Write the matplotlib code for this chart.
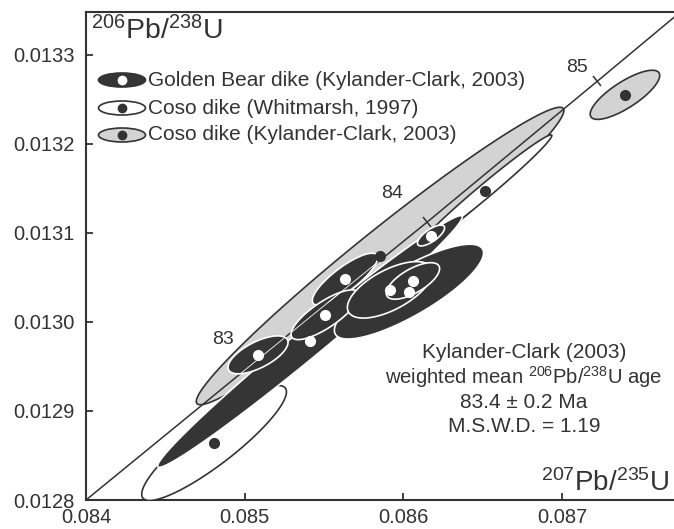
import numpy as np
import matplotlib
matplotlib.use("Agg")
import matplotlib.pyplot as plt
from matplotlib.patches import Ellipse, Polygon
from matplotlib.markers import MarkerStyle
from matplotlib.transforms import Affine2D

plt.rcParams['font.family'] = 'Liberation Sans'
plt.rcParams['mathtext.fontset'] = 'custom'
plt.rcParams['mathtext.rm'] = 'Liberation Sans'
plt.rcParams['mathtext.it'] = 'Liberation Sans:italic'
plt.rcParams['mathtext.bf'] = 'Liberation Sans:bold'

ink = '#333333'
dark = '#353535'
grey = '#d3d3d3'

# concordia, with age marks
conc_x = [0.08400, 0.085084, 0.086149, 0.087220, 0.087705]
conc_y = [0.012800, 0.012958, 0.013112, 0.013270, 0.013342]
age_marks = [83, 84, 85]
age_x = [0.085084, 0.086149, 0.087220]
age_y = [0.012958, 0.013112, 0.013270]

# error ellipses: 207Pb/235U, err, 206Pb/238U, err, rho
# Coso dike (Kylander-Clark, 2003)
coso_kc_x = [0.085853, 0.087396]
coso_kc_sx = [0.001158, 0.000219]
coso_kc_y = [0.013074, 0.013255]
coso_kc_sy = [0.000167, 0.0000276]
coso_kc_rho = [0.978, 0.786]

# Coso dike (Whitmarsh, 1997)
coso_w_x = [0.084807, 0.086514]
coso_w_sx = [0.000456, 0.000421]
coso_w_y = [0.012864, 0.013147]
coso_w_sy = [0.0000645, 0.0000630]
coso_w_rho = [0.890, 0.987]

# Golden Bear dike (Kylander-Clark, 2003)
gb_x = [0.085411, 0.086035, 0.085632, 0.085084, 0.085506, 0.085915, 0.086060, 0.086174]
gb_sx = [0.000960, 0.000470, 0.000206, 0.000189, 0.000214, 0.000268, 0.000168, 0.0000855]
gb_y = [0.012978, 0.013034, 0.013048, 0.012963, 0.013008, 0.013036, 0.013046, 0.013097]
gb_sy = [0.0001413, 0.0000532, 0.0000291, 0.0000213, 0.0000279, 0.0000317, 0.0000205, 0.0000117]
gb_rho = [0.989, 0.816, 0.826, 0.656, 0.789, 0.624, 0.673, 0.729]

xticks = [0.084, 0.085, 0.086, 0.087]
yticks = [0.0128, 0.0129, 0.0130, 0.0131, 0.0132, 0.0133]


def ellipse_xy(x, sx, y, sy, rho, n=240):
    t = np.linspace(0, 2 * np.pi, n)
    ex = x + sx * np.cos(t)
    ey = y + sy * (rho * np.cos(t) + np.sqrt(1 - rho ** 2) * np.sin(t))
    return ex, ey


fig = plt.figure(figsize=(6.74, 5.29), dpi=100)
ax = fig.add_axes([86 / 674, 29 / 529, 588 / 674, 488 / 529])
ax.set_xlim(0.084, 0.087705)
ax.set_ylim(0.0128, 0.013348)

# grey ellipses
for i in range(len(coso_kc_x)):
    ex, ey = ellipse_xy(coso_kc_x[i], coso_kc_sx[i], coso_kc_y[i], coso_kc_sy[i], coso_kc_rho[i])
    ax.fill(ex, ey, facecolor=grey, edgecolor=ink, lw=1.2, zorder=2)

# white ellipses
for i in range(len(coso_w_x)):
    ex, ey = ellipse_xy(coso_w_x[i], coso_w_sx[i], coso_w_y[i], coso_w_sy[i], coso_w_rho[i])
    ax.fill(ex, ey, facecolor='white', edgecolor=ink, lw=1.2, zorder=3)

# concordia
ax.plot(conc_x, conc_y, color=ink, lw=1.1, zorder=4)
p = ax.transData.transform(np.column_stack([conc_x, conc_y]))
ang = np.degrees(np.arctan2(p[-1, 1] - p[0, 1], p[-1, 0] - p[0, 0]))
tick_m = MarkerStyle('|', transform=Affine2D().rotate_deg(ang))
ax.plot(age_x, age_y, ls='none', marker=tick_m, ms=10, mew=1.1, color=ink, zorder=4)
label_off = [(-35, 20), (-35, 29), (-20, 14)]
for a, x, y, off in zip(age_marks, age_x, age_y, label_off):
    ax.annotate(str(a), (x, y), xytext=off, textcoords='offset pixels',
                ha='center', va='center', fontsize=14, color=ink)

# dark ellipses, concordia shows as a thin white line through them
for i in range(len(gb_x)):
    ex, ey = ellipse_xy(gb_x[i], gb_sx[i], gb_y[i], gb_sy[i], gb_rho[i])
    poly = Polygon(np.column_stack([ex, ey]), closed=True, facecolor=dark,
                   edgecolor='white', lw=1.2, zorder=5)
    ax.add_patch(poly)
    ln, = ax.plot(conc_x, conc_y, color='white', lw=0.6, zorder=5.5)
    ln.set_clip_path(poly)

# centre dots
ax.plot(coso_kc_x, coso_kc_y, 'o', color=ink, ms=7, zorder=6)
ax.plot(coso_w_x, coso_w_y, 'o', color=ink, ms=7, zorder=6)
ax.plot(gb_x, gb_y, 'o', color='white', ms=7, zorder=6)

# legend
leg_rows = ['Golden Bear dike (Kylander-Clark, 2003)',
            'Coso dike (Whitmarsh, 1997)',
            'Coso dike (Kylander-Clark, 2003)']
leg_face = [dark, 'white', grey]
leg_dot = ['white', ink, ink]
leg_y = [(500 - 80) / 488, (500 - 108) / 488, (500 - 135) / 488]
for lab, fc, dc, y in zip(leg_rows, leg_face, leg_dot, leg_y):
    ax.add_patch(Ellipse((36 / 588, y), 47 / 588, 14 / 488, transform=ax.transAxes,
                         facecolor=fc, edgecolor=ink, lw=1.2, zorder=7))
    ax.plot([36 / 588], [y], 'o', color=dc, ms=6, transform=ax.transAxes, zorder=8)
    ax.text(62 / 588, y, lab, transform=ax.transAxes, ha='left', va='center',
            fontsize=15, color=ink, zorder=8)

ax.text(5 / 588, (500 - 31) / 488, r'$^{206}$Pb/$^{238}$U', transform=ax.transAxes,
        ha='left', va='center', fontsize=20.5, color=ink)
ax.text(583 / 588, (500 - 483) / 488, r'$^{207}$Pb/$^{235}$U', transform=ax.transAxes,
        ha='right', va='center', fontsize=20, color=ink)

note = ['Kylander-Clark (2003)',
        r'weighted mean $^{206}$Pb/$^{238}$U age',
        '83.4 \u00b1 0.2 Ma',
        'M.S.W.D. = 1.19']
for k, s in enumerate(note):
    ax.text((524 - 86) / 588, (500 - 352 - 25 * k) / 488, s, transform=ax.transAxes,
            ha='center', va='center', fontsize=15 if k != 1 else 14.6, color=ink)

ax.set_xticks(xticks)
ax.set_xticklabels(['%.3f' % v for v in xticks])
ax.set_yticks(yticks)
ax.set_yticklabels(['%.4f' % v for v in yticks])
ax.tick_params(direction='in', length=5, width=1.3, color=ink, labelcolor=ink,
               labelsize=14.5)
ax.tick_params(axis='y', pad=8)
ax.tick_params(axis='x', pad=6)
ax.spines['right'].set_visible(False)
for s in ['left', 'bottom', 'top']:
    ax.spines[s].set_color(ink)
    ax.spines[s].set_linewidth(1.5)

fig.savefig('out.png', dpi=100)
